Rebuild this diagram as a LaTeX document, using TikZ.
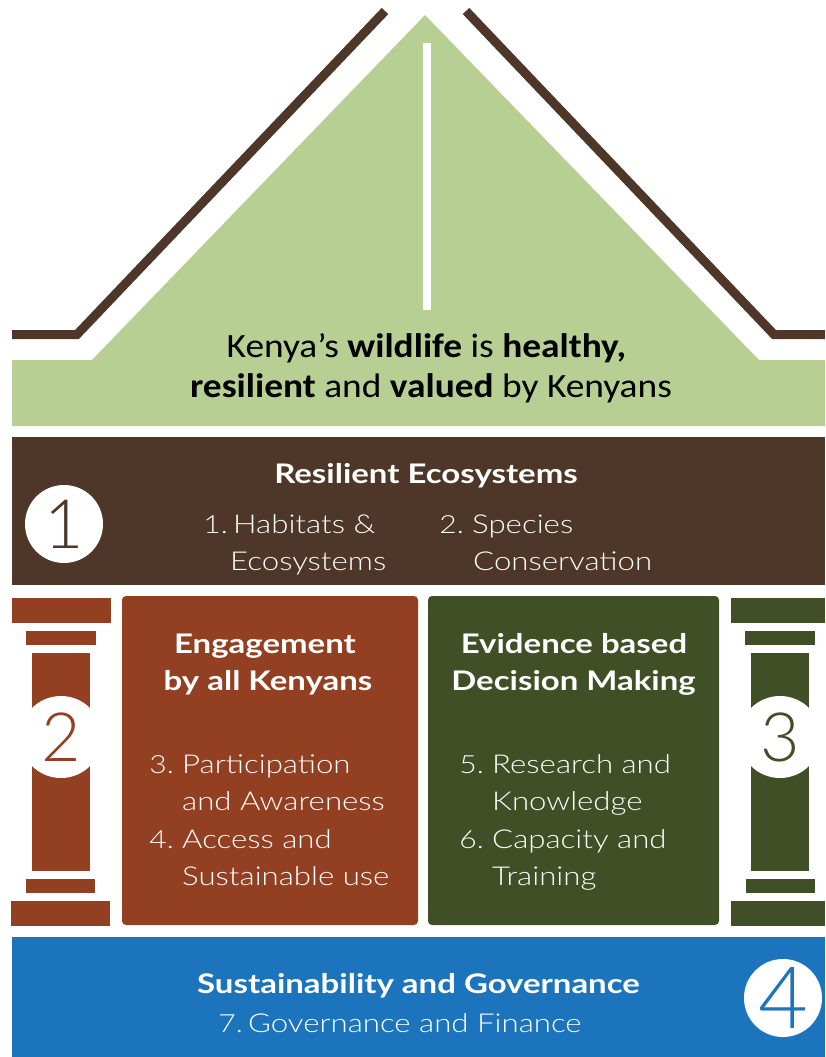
\documentclass[tikz,border=0pt]{standalone}
\usepackage{fontspec}
\setmainfont{Lato}
\newfontfamily\lightf{Lato Light}[FakeStretch=1.2]
\newfontfamily\digitf{Lato Light}
\newfontfamily\headf{Lato}[FakeStretch=1.22]
\newfontfamily\rooff{Carlito}[FakeStretch=1.1]
\definecolor{roofgreen}{HTML}{B7CF93}
\definecolor{darkbrown}{HTML}{4E3728}
\definecolor{rust}{HTML}{933F22}
\definecolor{olive}{HTML}{404F25}
\definecolor{bandblue}{HTML}{1C75BC}
\tikzset{
  lt/.style={inner sep=0pt, anchor=base west, text=white, font=\lightf\fontsize{26}{26}\selectfont},
  num/.style={lt, anchor=base east, font=\lightf\fontsize{25}{25}\selectfont},
  hd/.style={inner sep=0pt, anchor=base, text=white, font=\headf\bfseries\fontsize{27}{27}\selectfont},
  rooftext/.style={inner sep=0pt, anchor=base, text=black, font=\rooff\fontsize{34}{34}\selectfont},
  numcircle/.style={circle, fill=white, inner sep=0pt, minimum size=#1},
  digit/.style={inner sep=0pt, font=\digitf\fontsize{68}{68}\selectfont},
  roofline/.style={draw=darkbrown, line width=9pt, line cap=butt, line join=miter}
}
\begin{document}
\begin{tikzpicture}[x=1pt,y=-1pt]
\useasboundingbox (0,0) rectangle (825,1057);
% roof
\fill[roofgreen] (12,360) -- (92,360) -- (425,15) -- (759,360) -- (825,360) -- (825,426) -- (12,426) -- cycle;
\fill[white] (423,43) rectangle (431,310);
\draw[roofline] (12,334.5) -- (77,334.5) -- (385,11);
\draw[roofline] (825,334.5) -- (774,334.5) -- (466,11);
\node[rooftext] (vision1) at (426.5,357) {Kenya’s \textbf{wildlife} is \textbf{healthy,}};
\node[rooftext] (vision2) at (431,397) {\textbf{resilient} and \textbf{valued} by Kenyans};
% band 1
\fill[darkbrown] (12,437) rectangle (825,585);
\node[numcircle=78pt] (c1) at (64,524) {};
\node[digit, text=darkbrown] (d1) at (c1) {1};
\node[hd] (h1) at (426,483) {Resilient Ecosystems};
\node[num] (n1) at (228,533) {1.};
\node[lt] (t1a) at (233,533) {Habitats \&};
\node[lt] (t1b) at (230,570) {Ecosystems};
\node[num] (n2) at (464,533) {2.};
\node[lt] (t2a) at (472,533) {Species};
\node[lt] (t2b) at (473,570) {Conservation};
% left pillar
\fill[rust] (12,598) rectangle (111,623);
\fill[rust] (26,631) rectangle (96,645);
\fill[rust] (32,653) rectangle (90,871);
\fill[rust] (26,879) rectangle (95,893);
\fill[rust] (11,901) rectangle (110,926);
\node[numcircle=82pt] (c2) at (61,737) {};
\node[digit, text=rust] (d2) at (c2) {2};
% right pillar
\fill[olive] (731,598) rectangle (825,623);
\fill[olive] (745,631) rectangle (815,645);
\fill[olive] (751,653) rectangle (809,871);
\fill[olive] (746,879) rectangle (815,893);
\fill[olive] (731,901) rectangle (825,926);
\node[numcircle=82pt] (c3) at (780,737) {};
\node[digit, text=olive] (d3) at (c3) {3};
% boxes
\fill[rust, rounded corners=4pt] (122,596) rectangle (418,925);
\fill[olive, rounded corners=4pt] (428,596) rectangle (719,925);
\node[hd] (h2a) at (265,653) {Engagement};
\node[hd] (h2b) at (268,690) {by all Kenyans};
\node[num] (n3) at (174,773) {3.};
\node[lt] (t3a) at (182,773) {Participation};
\node[lt] (t3b) at (182,810) {and Awareness};
\node[num] (n4) at (174,848) {4.};
\node[lt] (t4a) at (182,848) {Access and};
\node[lt] (t4b) at (182,885) {Sustainable use};
\node[hd] (h3a) at (574,653) {Evidence based};
\node[hd] (h3b) at (573.5,690) {Decision Making};
\node[num] (n5) at (484,773) {5.};
\node[lt] (t5a) at (492,773) {Research and};
\node[lt] (t5b) at (492,810) {Knowledge};
\node[num] (n6) at (484,848) {6.};
\node[lt] (t6a) at (492,848) {Capacity and};
\node[lt] (t6b) at (492,885) {Training};
% band 4
\fill[bandblue] (12,937) rectangle (825,1057);
\node[hd] (h4) at (418.5,993) {Sustainability and Governance};
\node[num] (n7) at (243,1032) {7.};
\node[lt] (t7) at (248,1032) {Governance and Finance};
\node[numcircle=78pt] (c4) at (783,998) {};
\node[digit, text=bandblue, font=\digitf\fontsize{86}{86}\selectfont] (d4) at (c4) {4};
\end{tikzpicture}
\end{document}
